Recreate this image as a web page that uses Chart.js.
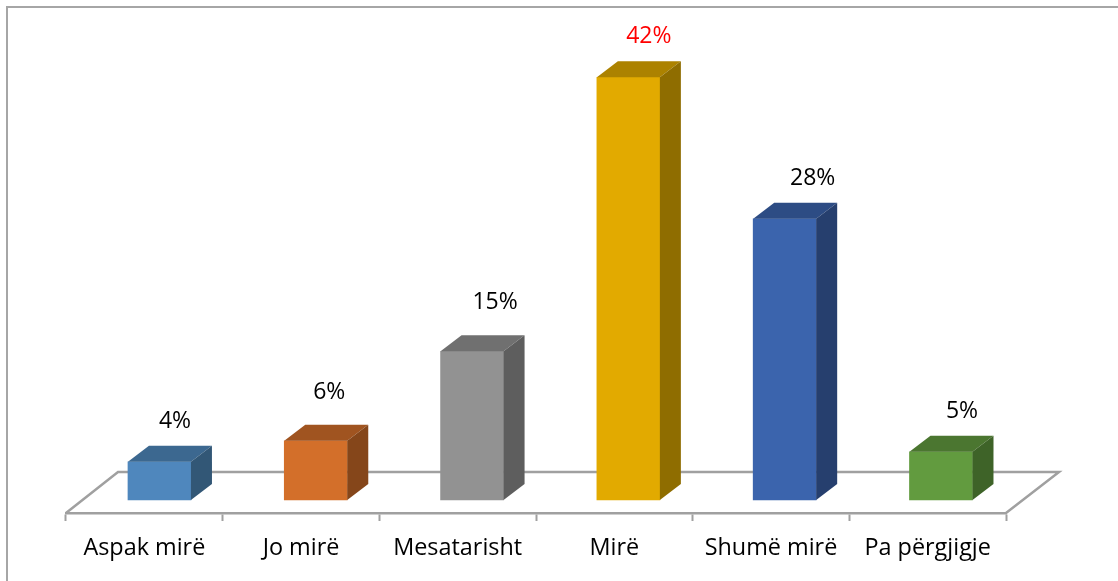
<!DOCTYPE html>
<html>
<head>
    <title>Vlerësimi</title>
    <script src="https://cdn.jsdelivr.net/npm/chart.js"></script>
    <style>
        html, body { margin: 0; padding: 0; background: #fff; overflow: hidden; }
        /* only the top and left edge of the frame are in the picture */
        #frame {
            position: absolute;
            left: 6px; top: 6px; right: 0; bottom: 0;
            border-top: 2px solid #a6a6a6;
            border-left: 2px solid #a6a6a6;
            box-sizing: border-box;
        }
        canvas { position: absolute; left: 0; top: 0; }
    </style>
</head>
<body>
    <div id="frame"></div>
    <canvas id="chart" width="1118" height="581"></canvas>
    <script>
        const categories = ['Aspak mirë', 'Jo mirë', 'Mesatarisht', 'Mirë', 'Shumë mirë', 'Pa përgjigje'];
        const percentages = [3.8, 5.9, 14.8, 42.1, 28, 4.8];

        const frontColors = ['#4f87bd', '#d36f2a', '#929292', '#e2aa00', '#3b64ad', '#629b3f'];
        const topColors = ['#3c6890', '#a05420', '#707070', '#ac8200', '#2d4c84', '#4b7630'];
        const sideColors = ['#325776', '#85461a', '#5e5e5e', '#8f6d00', '#263f6e', '#3e6328'];
        const labelColors = ['#000', '#000', '#000', '#f00', '#000', '#000'];
        // hand placed, the labels do not sit at the same spot on each bar
        const labelShiftX = [15.5, 13.5, 23, 20.5, 28, 21];
        const labelShiftY = [-40.5, -48.5, -48.5, -40.5, -40.5, -40.5];

        const depthX = 21;
        const depthY = 16;
        const fontName = '"Open Sans", "Noto Sans", sans-serif';

        function face(ctx, color, pts) {
            ctx.fillStyle = color;
            ctx.beginPath();
            pts.forEach((p, i) => i ? ctx.lineTo(p[0], p[1]) : ctx.moveTo(p[0], p[1]));
            ctx.closePath();
            ctx.fill();
        }

        // floor of the 3D plot, behind the bars
        const floorPlugin = {
            id: 'floor',
            beforeDatasetsDraw(chart) {
                const { ctx, chartArea } = chart;
                const b = chartArea.bottom;
                ctx.save();
                ctx.strokeStyle = '#a0a0a0';
                ctx.lineWidth = 2.5;
                ctx.beginPath();
                ctx.moveTo(chartArea.left, b);
                ctx.lineTo(chartArea.left + 52, b - 41);
                ctx.lineTo(chartArea.right + 53, b - 41);
                ctx.lineTo(chartArea.right, b);
                ctx.stroke();
                ctx.restore();
            }
        };

        // top and side faces, worked out from the bars the library laid out
        const boxPlugin = {
            id: 'box',
            afterDatasetsDraw(chart) {
                const { ctx } = chart;
                ctx.save();
                chart.getDatasetMeta(0).data.forEach((bar, i) => {
                    const l = bar.x - bar.width / 2;
                    const r = bar.x + bar.width / 2;
                    face(ctx, topColors[i], [[l, bar.y], [l + depthX, bar.y - depthY], [r + depthX, bar.y - depthY], [r, bar.y]]);
                    face(ctx, sideColors[i], [[r, bar.y], [r + depthX, bar.y - depthY], [r + depthX, bar.base - depthY], [r, bar.base]]);

                    ctx.fillStyle = labelColors[i];
                    ctx.font = '23px ' + fontName;
                    ctx.textAlign = 'center';
                    ctx.textBaseline = 'middle';
                    ctx.fillText(Math.round(percentages[i]) + '%', bar.x + labelShiftX[i], bar.y + labelShiftY[i]);
                });
                ctx.restore();
            }
        };

        new Chart(document.getElementById('chart'), {
            type: 'bar',
            data: {
                labels: categories,
                datasets: [{
                    data: percentages.map((v, i) => ({ x: i, y: v })),
                    backgroundColor: frontColors,
                    barThickness: 63,
                    xAxisID: 'barX',
                    yAxisID: 'y'
                }]
            },
            options: {
                responsive: false,
                animation: false,
                layout: { padding: { left: 66, right: 112, top: 18, bottom: 0 } },
                plugins: { legend: { display: false }, tooltip: { enabled: false } },
                scales: {
                    x: {
                        type: 'category',
                        position: 'bottom',
                        offset: true,
                        grid: { offset: true, drawOnChartArea: false, tickLength: 8, color: '#a0a0a0', tickWidth: 2 },
                        border: { color: '#a0a0a0', width: 2.5 },
                        ticks: { color: '#000', padding: 13, maxRotation: 0, autoSkip: false, font: { size: 23.4, family: fontName } },
                        afterFit(scale) { scale.height = 68; }
                    },
                    // bars stand further in than the labels, 3D perspective of the original
                    barX: { type: 'linear', display: false, position: 'bottom', offset: false, min: -0.598, max: 5.416 },
                    y: { display: false, min: -1.3, max: 48 }
                }
            },
            plugins: [floorPlugin, boxPlugin]
        });
    </script>
</body>
</html>
